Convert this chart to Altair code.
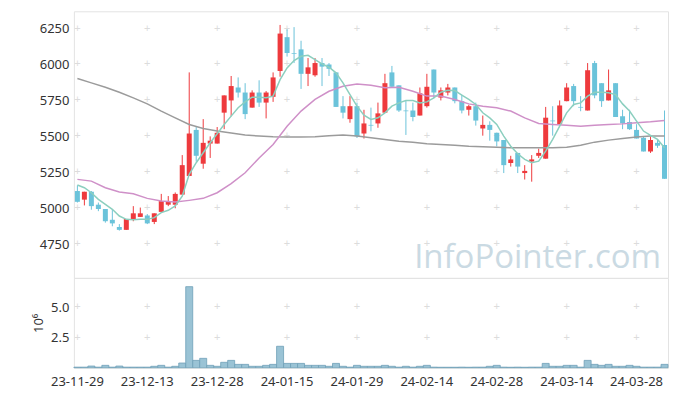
import altair as alt
import pandas as pd
import numpy as np

dates = [
    "23-11-29", "23-11-30", "23-12-01", "23-12-04", "23-12-05", "23-12-06", "23-12-07", "23-12-08", "23-12-11", "23-12-12",
    "23-12-13", "23-12-14", "23-12-15", "23-12-18", "23-12-19", "23-12-20", "23-12-21", "23-12-22", "23-12-26", "23-12-27",
    "23-12-28", "24-01-02", "24-01-03", "24-01-04", "24-01-05", "24-01-08", "24-01-09", "24-01-10", "24-01-11", "24-01-12",
    "24-01-15", "24-01-16", "24-01-17", "24-01-18", "24-01-19", "24-01-22", "24-01-23", "24-01-24", "24-01-25", "24-01-26",
    "24-01-29", "24-01-30", "24-01-31", "24-02-01", "24-02-02", "24-02-05", "24-02-06", "24-02-07", "24-02-08", "24-02-13",
    "24-02-14", "24-02-15", "24-02-16", "24-02-19", "24-02-20", "24-02-21", "24-02-22", "24-02-23", "24-02-26", "24-02-27",
    "24-02-28", "24-02-29", "24-03-04", "24-03-05", "24-03-06", "24-03-07", "24-03-08", "24-03-11", "24-03-12", "24-03-13",
    "24-03-14", "24-03-15", "24-03-18", "24-03-19", "24-03-20", "24-03-21", "24-03-22", "24-03-25", "24-03-26", "24-03-27",
    "24-03-28", "24-03-29", "24-04-01", "24-04-02", "24-04-03",
]

opens = [
    5120, 5060, 5115, 5025, 4995, 4920, 4870, 4850, 4920, 4940,
    4950, 4905, 4975, 5025, 5025, 5095, 5225, 5545, 5310, 5450,
    5450, 5665, 5750, 5840, 5805, 5700, 5805, 5735, 5775, 5955,
    6190, 6080, 6105, 5935, 5925, 6010, 6000, 5945, 5710, 5620,
    5710, 5520, 5580, 5590, 5665, 5945, 5855, 5680, 5680, 5645,
    5710, 5965, 5770, 5805, 5840, 5745, 5685, 5710, 5555, 5580,
    5525, 5475, 5315, 5385, 5245, 5325, 5365, 5345, 5610, 5585,
    5745, 5850, 5705, 5680, 6010, 5870, 5750, 5870, 5640, 5600,
    5545, 5490, 5395, 5455, 5440,
]
highs = [
    5160, 5115, 5120, 5040, 4995, 4990, 4890, 4925, 5015, 5005,
    4960, 4965, 5100, 5085, 5110, 5370, 5945, 5565, 5620, 5500,
    5565, 5785, 5920, 5910, 5870, 5820, 5890, 5815, 5945, 6275,
    6245, 6260, 6165, 6045, 6045, 6045, 6010, 5945, 5780, 5780,
    5735, 5685, 5700, 5735, 5935, 5990, 5855, 5750, 5735, 5840,
    5935, 5965, 5840, 5865, 5840, 5790, 5720, 5735, 5645, 5605,
    5525, 5475, 5365, 5385, 5300, 5370, 5415, 5705, 5710, 5750,
    5870, 5865, 5780, 6010, 6025, 5870, 5965, 5870, 5685, 5685,
    5585, 5500, 5500, 5480, 5680,
]
lows = [
    5040, 5020, 4990, 4980, 4900, 4875, 4845, 4850, 4910, 4940,
    4890, 4890, 4975, 5015, 5000, 5095, 5225, 5325, 5275, 5350,
    5450, 5550, 5640, 5770, 5620, 5700, 5705, 5625, 5740, 5915,
    6055, 6010, 5830, 5850, 5915, 5850, 5920, 5705, 5625, 5595,
    5490, 5485, 5535, 5560, 5665, 5840, 5670, 5510, 5605, 5645,
    5700, 5765, 5750, 5785, 5730, 5660, 5645, 5575, 5505, 5470,
    5430, 5245, 5290, 5245, 5200, 5185, 5350, 5345, 5505, 5585,
    5745, 5710, 5675, 5680, 5765, 5705, 5750, 5635, 5550, 5545,
    5485, 5395, 5385, 5420, 5205,
]
closes = [
    5045, 5115, 5015, 4995, 4910, 4895, 4850, 4925, 4965, 4965,
    4895, 4965, 5050, 5050, 5100, 5300, 5520, 5365, 5455, 5470,
    5525, 5785, 5850, 5805, 5655, 5805, 5735, 5805, 5910, 6215,
    6080, 6075, 5935, 5980, 6010, 5985, 5970, 5705, 5665, 5710,
    5500, 5590, 5575, 5660, 5870, 5845, 5680, 5675, 5635, 5800,
    5845, 5805, 5820, 5840, 5745, 5680, 5710, 5610, 5580, 5545,
    5465, 5300, 5340, 5290, 5260, 5340, 5385, 5630, 5605, 5715,
    5840, 5745, 5700, 5960, 5785, 5745, 5820, 5635, 5590, 5550,
    5485, 5395, 5475, 5435, 5205,
]
# volume in millions of shares
volumes = [
    0.05, 0.05, 0.14, 0.05, 0.20, 0.05, 0.14, 0.05, 0.05, 0.05,
    0.05, 0.12, 0.20, 0.05, 0.12, 0.39, 6.72, 0.61, 0.78, 0.20,
    0.12, 0.45, 0.61, 0.28, 0.28, 0.12, 0.12, 0.20, 0.28, 1.78,
    0.36, 0.36, 0.36, 0.20, 0.20, 0.20, 0.12, 0.36, 0.12, 0.05,
    0.20, 0.12, 0.12, 0.12, 0.20, 0.12, 0.05, 0.12, 0.05, 0.12,
    0.20, 0.05, 0.04, 0.04, 0.04, 0.05, 0.04, 0.05, 0.05, 0.12,
    0.20, 0.05, 0.04, 0.05, 0.04, 0.05, 0.05, 0.36, 0.12, 0.12,
    0.20, 0.20, 0.05, 0.61, 0.28, 0.20, 0.28, 0.12, 0.12, 0.20,
    0.12, 0.05, 0.05, 0.05, 0.28,
]
# 5-session moving average, read per session
ma5 = [
    5162, 5143, 5108, 5062, 5027, 4993, 4946, 4923, 4921, 4923,
    4923, 4935, 4970, 4986, 5016, 5085, 5236, 5317, 5386, 5456,
    5518, 5583, 5641, 5699, 5740, 5773, 5773, 5768, 5780, 5895,
    5976, 6027, 6057, 6064, 6034, 6004, 5981, 5942, 5872, 5791,
    5710, 5648, 5618, 5629, 5664, 5710, 5733, 5750, 5750, 5733,
    5740, 5768, 5807, 5821, 5819, 5787, 5757, 5722, 5664, 5629,
    5583, 5502, 5432, 5379, 5340, 5317, 5328, 5398, 5479, 5571,
    5664, 5722, 5733, 5780, 5807, 5807, 5803, 5791, 5726, 5676,
    5606, 5537, 5507, 5479, 5421,
]
# 20- and 120-session moving averages, read every second session
ma20 = [
    5201, 5189, 5143, 5113, 5101, 5069, 5050, 5043, 5055, 5069,
    5108, 5171, 5247, 5350, 5444, 5571, 5676, 5757, 5814, 5849,
    5865, 5856, 5838, 5842, 5814, 5780, 5780, 5757, 5726, 5710,
    5699, 5676, 5629, 5590, 5583, 5578, 5571, 5578, 5583, 5587,
    5594, 5601, 5611,
]
ma120 = [
    5902, 5872, 5842, 5807, 5768, 5726, 5676, 5629, 5583, 5555,
    5537, 5523, 5509, 5502, 5497, 5495, 5495, 5497, 5504, 5509,
    5502, 5490, 5479, 5467, 5460, 5449, 5444, 5439, 5432, 5428,
    5425, 5421, 5421, 5421, 5421, 5425, 5439, 5460, 5474, 5486,
    5495, 5502, 5502,
]
x_ticks = ["23-11-29", "23-12-13", "23-12-28", "24-01-15", "24-01-29",
           "24-02-14", "24-02-28", "24-03-14", "24-03-28"]
price_ticks = [4750, 5000, 5250, 5500, 5750, 6000, 6250]
vol_ticks = [2.5, 5.0]

FONT = "Noto Sans"
RED = "#ee3a3d"
BLUE = "#6bc3da"

df = pd.DataFrame({"date": dates, "open": opens, "high": highs, "low": lows,
                   "close": closes, "volume": volumes})
df["dir"] = np.where(df["close"] >= df["open"], "up", "down")

df5 = pd.DataFrame({"date": dates, "v": ma5})
df20 = pd.DataFrame({"date": dates[::2], "v": ma20})
df120 = pd.DataFrame({"date": dates[::2], "v": ma120})

grid_main = pd.DataFrame([(d, p) for d in x_ticks for p in price_ticks], columns=["date", "v"])
grid_vol = pd.DataFrame([(d, p) for d in x_ticks for p in vol_ticks], columns=["date", "v"])

xscale = alt.Scale(domain=dates, paddingInner=0, paddingOuter=0)
yscale = alt.Scale(domain=[4516, 6370], nice=False, zero=False)

X_main = alt.X("date:O", scale=xscale, axis=None)
color = alt.Color("dir:N", scale=alt.Scale(domain=["up", "down"], range=[RED, BLUE]), legend=None)

y_axis = alt.Axis(values=price_ticks, grid=False, ticks=False, domain=False, labelPadding=5,
                  labelFontSize=13, labelColor="#333", format="d", title=None)

grid1 = alt.Chart(grid_main).mark_text(text="+", color="#dcdcdc", fontSize=11).encode(
    x=X_main, y=alt.Y("v:Q", scale=yscale, axis=y_axis))

wicks = alt.Chart(df).mark_rule(strokeWidth=1).encode(
    x=X_main, y=alt.Y("low:Q", scale=yscale), y2="high:Q", color=color)
bodies = alt.Chart(df).mark_bar(size=5).encode(
    x=X_main, y=alt.Y("open:Q", scale=yscale), y2="close:Q", color=color)

l120 = alt.Chart(df120).mark_line(color="#9b9b9b", strokeWidth=1.5).encode(
    x=X_main, y=alt.Y("v:Q", scale=yscale))
l20 = alt.Chart(df20).mark_line(color="#cf90c8", strokeWidth=1.5).encode(
    x=X_main, y=alt.Y("v:Q", scale=yscale))
l5 = alt.Chart(df5).mark_line(color="#8ccfbf", strokeWidth=1.5).encode(
    x=X_main, y=alt.Y("v:Q", scale=yscale))

watermark = alt.Chart(pd.DataFrame({"t": ["InfoPointer.com"]})).mark_text(
    font="Open Sans", fontSize=33, color="#cadae3", align="right", baseline="alphabetic"
).encode(text="t:N", x=alt.value(588), y=alt.value(257))

main = alt.layer(grid1, watermark, wicks, bodies, l120, l20, l5).properties(width=595, height=267)

X_vol = alt.X("date:O", scale=xscale,
              axis=alt.Axis(values=x_ticks, labelAngle=0, ticks=False, domain=False, grid=False,
                            labelPadding=8, labelFontSize=13, labelColor="#333", title=None))
vscale = alt.Scale(domain=[0, 7.45], nice=False)
v_axis = alt.Axis(values=vol_ticks, grid=False, ticks=False, domain=False, labelPadding=5,
                  labelFontSize=13, labelColor="#333", format=".1f",
                  title="10⁶", titleFontSize=13, titleFontWeight="normal", titleColor="#333",
                  titlePadding=5)

grid2 = alt.Chart(grid_vol).mark_text(text="+", color="#dcdcdc", fontSize=11).encode(
    x=X_vol, y=alt.Y("v:Q", scale=vscale, axis=v_axis))
vbars = alt.Chart(df).mark_bar(fill="#9ac3d5", stroke="#6f9fb7", strokeWidth=0.8).encode(
    x=X_vol, y=alt.Y("volume:Q", scale=vscale, axis=v_axis))

vol = alt.layer(grid2, vbars).properties(width=595, height=90)

chart = alt.vconcat(main, vol, spacing=0, bounds="flush").properties(
    padding={"left": 24, "top": 2, "right": 0, "bottom": 0}
).configure_view(stroke="#e3e3e3").configure_axis(
    labelFont=FONT, titleFont=FONT
)

chart.save("out.html", embed_options={"renderer": "svg", "actions": False})
